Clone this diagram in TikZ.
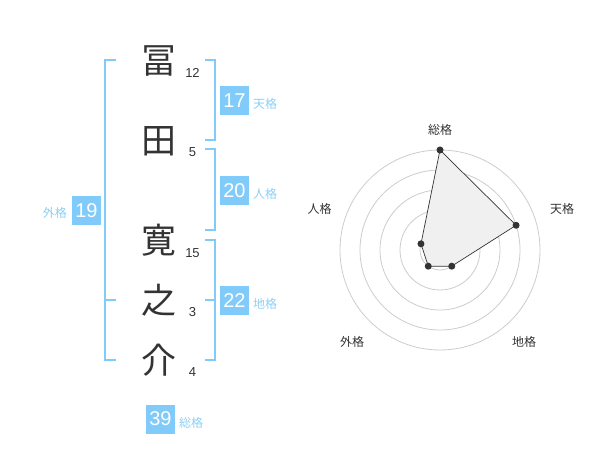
\documentclass[tikz,border=0pt]{standalone}
\usepackage{fontspec}
\usetikzlibrary{calc}
\setmainfont{Liberation Sans}
\newfontfamily\cjk{Noto Sans CJK JP}
\definecolor{kblue}{HTML}{80CBFA}
\definecolor{klabel}{HTML}{8CCFF5}
\definecolor{ktext}{HTML}{333333}
\definecolor{kgrid}{HTML}{CCCCCC}
\definecolor{kfill}{HTML}{F0F0F0}
\begin{document}
\begin{tikzpicture}[x=1pt,y=-1pt,
  kanji/.style={font=\cjk\fontsize{35}{35}\selectfont, text=ktext, inner sep=0pt},
  strokes/.style={font=\fontsize{13}{13}\selectfont, text=ktext, inner sep=0pt},
  numbox/.style={fill=kblue, text=white, minimum size=29pt, inner sep=0pt, font=\fontsize{20}{20}\selectfont},
  kaku/.style={font=\cjk\fontsize{12}{12}\selectfont, text=klabel, inner sep=0pt},
  bracket/.style={draw=kblue, line width=2pt},
  grid/.style={draw=kgrid, line width=0.8pt},
  axlabel/.style={font=\cjk\fontsize{12}{12}\selectfont, text=ktext, inner sep=0pt},
  dot/.style={circle, fill=ktext, minimum size=7pt, inner sep=0pt}]
\useasboundingbox (0,0) rectangle (600,470);
% characters
\node[kanji] (k1) at (159,60.5) {冨};
\node[kanji] (k2) at (159,141) {田};
\node[kanji] (k3) at (159,240) {寛};
\node[kanji] (k4) at (159,300) {之};
\node[kanji] (k5) at (159,360) {介};
% stroke counts
\node[strokes] (n1) at (192.5,72.5) {12};
\node[strokes] (n2) at (192.5,152.5) {5};
\node[strokes] (n3) at (192.5,253) {15};
\node[strokes] (n4) at (192.5,312.5) {3};
\node[strokes] (n5) at (192.5,372.5) {4};
% brackets
\coordinate (r1a) at (205,60); \coordinate (r1b) at (205,140);
\coordinate (r2a) at (205,149.5); \coordinate (r2b) at (205,230);
\coordinate (r3a) at (205,240); \coordinate (r3m) at (205,300); \coordinate (r3b) at (205,360);
\draw[bracket] (r1a) -- ++(10,0) |- (r1b);
\draw[bracket] (r2a) -- ++(10,0) |- (r2b);
\draw[bracket] (r3a) -- ++(10,0) |- (r3b);
\draw[bracket] (r3m) -- ++(10,0);
\coordinate (la) at (116,60); \coordinate (lm) at (116,300); \coordinate (lb) at (116,360);
\draw[bracket] (la) -- ++(-11,0) |- (lb);
\draw[bracket] (lm) -- ++(-11,0);
% boxes
\node[numbox] (b1) at (234.5,100.5) {17};
\node[kaku, anchor=west] (t1) at (253,104) {天格};
\node[numbox] (b2) at (234.5,190.5) {20};
\node[kaku, anchor=west] (t2) at (253,194) {人格};
\node[numbox] (b3) at (234.5,300.5) {22};
\node[kaku, anchor=west] (t3) at (253,304) {地格};
\node[numbox] (b4) at (86.5,210.5) {19};
\node[kaku, anchor=east] (t4) at (67,213) {外格};
\node[numbox] (b5) at (160.5,419) {39};
\node[kaku, anchor=west] (t5) at (179,423) {総格};
% radar
\coordinate (c) at (440,250);
\foreach \r in {20,40,60,80,100} \draw[grid] (c) circle (\r);
\fill[kgrid] (c) circle (4);
\coordinate (p1) at ($(c)+(-90:100)$);
\coordinate (p2) at ($(c)+(-18:80)$);
\coordinate (p3) at ($(c)+(54:20)$);
\coordinate (p4) at ($(c)+(126:20)$);
\coordinate (p5) at ($(c)+(198:20)$);
\draw[fill=kfill, draw=ktext, line width=0.7pt] (p1) -- (p2) -- (p3) -- (p4) -- (p5) -- cycle;
\foreach \p in {p1,p2,p3,p4,p5} \node[dot] at (\p) {};
\node[axlabel] (a1) at (440,130) {総格};
\node[axlabel] (a2) at (562,208.5) {天格};
\node[axlabel] (a3) at (524,342) {地格};
\node[axlabel] (a4) at (352,342) {外格};
\node[axlabel] (a5) at (319.5,208.5) {人格};
\end{tikzpicture}
\end{document}
